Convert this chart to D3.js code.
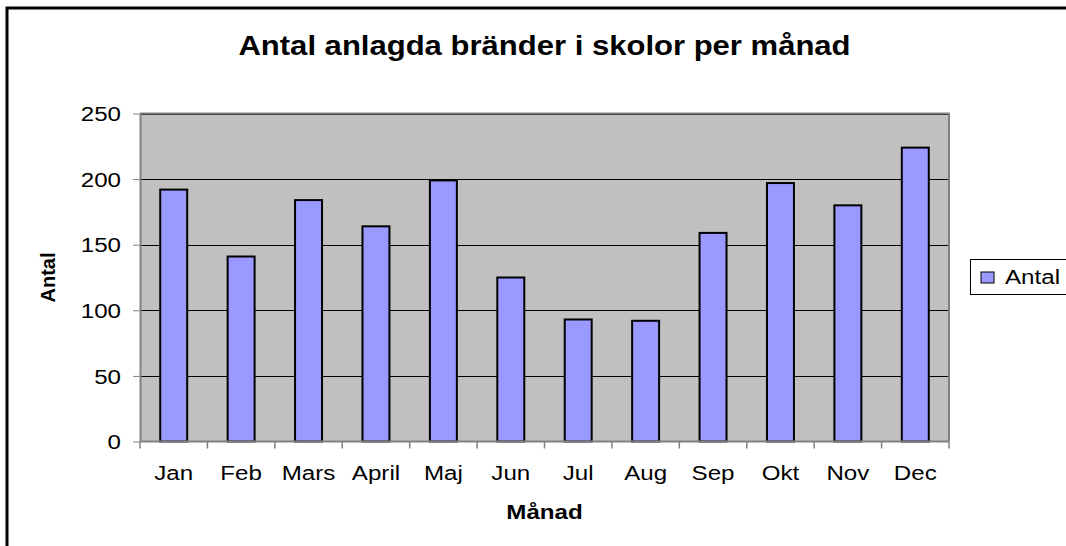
<!DOCTYPE html>
<html>
<head>
<meta charset="utf-8">
<script src="https://cdn.jsdelivr.net/npm/d3@7"></script>
<style>
  body { margin: 0; background: #fff; }
  text { font-family: "Liberation Sans", Arial, sans-serif; fill: #000; }
</style>
</head>
<body>
<div id="chart"></div>
<script>
var months = ['Jan', 'Feb', 'Mars', 'April', 'Maj', 'Jun', 'Jul', 'Aug', 'Sep', 'Okt', 'Nov', 'Dec'];
var antal = [192, 141, 184, 164, 199, 125, 93, 92, 159, 197, 180, 224];
var yTicks = [0, 50, 100, 150, 200, 250];
var seriesName = 'Antal';

var W = 1066, H = 546;
var plot = { left: 140, right: 949, top: 113.5, bottom: 441.5 };
var sx = 1.15; // text in the reference is a little wider than tall

var svg = d3.select('#chart').append('svg')
  .attr('width', W).attr('height', H);

// outer chart frame (right and bottom edges fall outside the window)
svg.append('rect')
  .attr('x', 7).attr('y', 8)
  .attr('width', W + 20).attr('height', H + 20)
  .attr('fill', '#fff').attr('stroke', '#000').attr('stroke-width', 3);

var x = d3.scaleBand().domain(months).range([plot.left, plot.right]).padding(0);
var y = d3.scaleLinear().domain([0, 250]).range([plot.bottom, plot.top]);

// plot background
svg.append('rect')
  .attr('x', plot.left).attr('y', plot.top)
  .attr('width', plot.right - plot.left).attr('height', plot.bottom - plot.top)
  .attr('fill', '#c0c0c0');

// gridlines
svg.append('g').selectAll('line')
  .data(yTicks.filter(function(d) { return d > 0; }))
  .enter().append('line')
  .attr('x1', plot.left).attr('x2', plot.right)
  .attr('y1', function(d) { return Math.round(y(d)) + 0.5; })
  .attr('y2', function(d) { return Math.round(y(d)) + 0.5; })
  .attr('stroke', '#000').attr('stroke-width', 1);

// plot border right/top in gray
svg.append('path')
  .attr('d', 'M' + plot.left + ',' + plot.top + 'H' + plot.right + 'V' + plot.bottom)
  .attr('fill', 'none').attr('stroke', '#808080').attr('stroke-width', 2);

// bars, Excel gap width 150%
var barW = x.bandwidth() / 2.5;
svg.append('g').selectAll('rect')
  .data(antal)
  .enter().append('rect')
  .attr('x', function(d, i) { return x(months[i]) + (x.bandwidth() - barW) / 2; })
  .attr('y', function(d) { return y(d); })
  .attr('width', barW)
  .attr('height', function(d) { return y(0) - y(d); })
  .attr('fill', '#9999ff')
  .attr('stroke', '#000').attr('stroke-width', 2);

// y axis
var yAxis = svg.append('g')
  .attr('transform', 'translate(' + plot.left + ',0)')
  .call(d3.axisLeft(y).tickValues(yTicks).tickSize(7).tickPadding(0).tickSizeOuter(0));
yAxis.select('.domain').attr('stroke', '#808080').attr('stroke-width', 2);
yAxis.selectAll('.tick line').attr('stroke', '#808080');
yAxis.selectAll('.tick text')
  .attr('x', -19 / sx).attr('dy', '0.34em')
  .attr('transform', 'scale(' + sx + ',1)')
  .style('font-size', '21px');

// x axis: labels centred on bands, tick marks on band boundaries
var xAxis = svg.append('g')
  .attr('transform', 'translate(0,' + plot.bottom + ')')
  .call(d3.axisBottom(x).tickSize(0).tickPadding(0).tickSizeOuter(0));
xAxis.select('.domain').remove();
xAxis.selectAll('.tick text')
  .attr('y', 0).attr('dy', 38.5)
  .attr('transform', 'scale(' + sx + ',1)')
  .style('font-size', '21px');
svg.append('line')
  .attr('x1', plot.left).attr('x2', plot.right)
  .attr('y1', plot.bottom).attr('y2', plot.bottom)
  .attr('stroke', '#808080').attr('stroke-width', 2);
svg.append('g').selectAll('line')
  .data(months.concat(['end']))
  .enter().append('line')
  .attr('x1', function(d, i) { return plot.left + i * x.step(); })
  .attr('x2', function(d, i) { return plot.left + i * x.step(); })
  .attr('y1', plot.bottom).attr('y2', plot.bottom + 7)
  .attr('stroke', '#808080').attr('stroke-width', 1.5);

// title and axis titles
var cx = (plot.left + plot.right) / 2;
svg.append('text')
  .attr('transform', 'translate(' + cx + ',55) scale(' + sx + ',1)')
  .attr('text-anchor', 'middle')
  .style('font-size', '27px').style('font-weight', 'bold')
  .text('Antal anlagda bränder i skolor per månad');

svg.append('text')
  .attr('transform', 'translate(' + cx + ',519) scale(' + sx + ',1)')
  .attr('text-anchor', 'middle')
  .style('font-size', '21px').style('font-weight', 'bold')
  .text('Månad');

svg.append('text')
  .attr('transform', 'translate(55,' + ((plot.top + plot.bottom) / 2) + ') rotate(-90)')
  .attr('text-anchor', 'middle')
  .style('font-size', '20px').style('font-weight', 'bold')
  .text('Antal');

// legend
var lg = svg.append('g').attr('transform', 'translate(970,259)');
lg.append('rect')
  .attr('x', 0.5).attr('y', 0.5).attr('width', 120).attr('height', 35)
  .attr('fill', '#fff').attr('stroke', '#000').attr('stroke-width', 1);
lg.append('rect')
  .attr('x', 11).attr('y', 13).attr('width', 13).attr('height', 11)
  .attr('fill', '#9999ff').attr('stroke', '#000').attr('stroke-width', 1);
lg.append('text')
  .attr('transform', 'translate(35,25) scale(' + sx + ',1)')
  .style('font-size', '21px')
  .text(seriesName);
</script>
</body>
</html>
